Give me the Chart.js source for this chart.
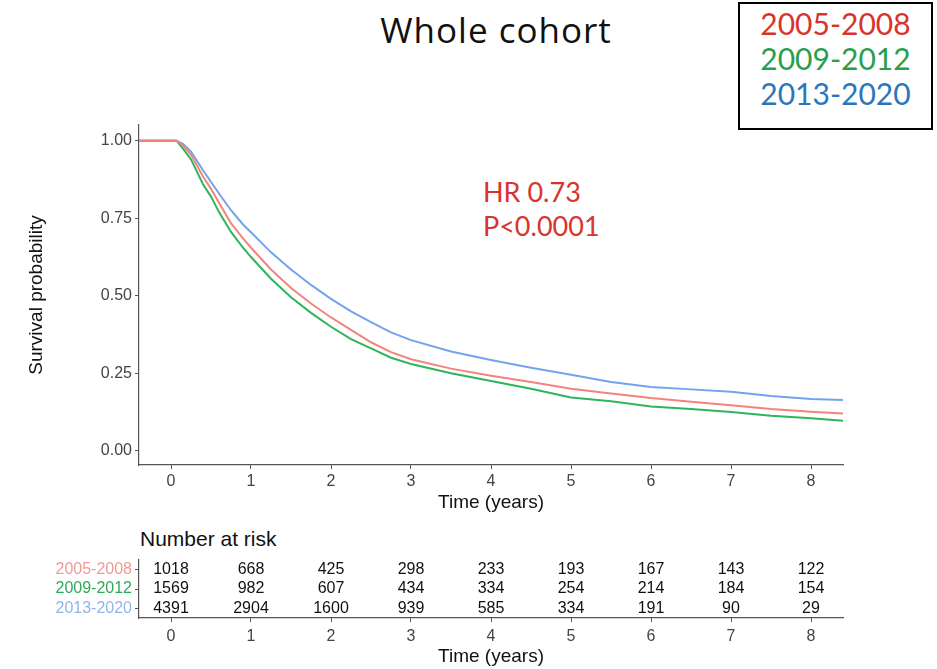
<!DOCTYPE html>
<html>
<head>
<meta charset="utf-8">
<script src="https://cdn.jsdelivr.net/npm/chart.js@4.4.0/dist/chart.umd.min.js"></script>
<style>
  body { margin:0; background:#fff; width:937px; height:669px; position:relative; overflow:hidden; }
  #main { position:absolute; left:0; top:0; }
  #risk { position:absolute; left:0; top:520px; }
  .title { position:absolute; left:296px; width:400px; top:8px; text-align:center; font-family:"Open Sans", sans-serif; font-size:35px; letter-spacing:1px; line-height:44px; color:#111; }
  .legendBox { position:absolute; left:738px; top:2px; width:195px; height:128px; box-sizing:border-box; border:2px solid #000; padding-top:2px; text-align:center; font-family:Lato, sans-serif; font-size:30px; line-height:35px; }
  .hr { position:absolute; left:483px; top:175px; font-family:Lato, sans-serif; font-size:27px; line-height:34px; color:#d9342b; }
  .nrisk { position:absolute; left:140px; top:526px; font-family:"Liberation Sans", Arial, sans-serif; font-size:21px; line-height:26px; color:#111; }
</style>
</head>
<body>
<div class="title">Whole cohort</div>
<div class="legendBox">
  <div style="color:#d9342b">2005-2008</div>
  <div style="color:#2a9d4f">2009-2012</div>
  <div style="color:#2a76bd">2013-2020</div>
</div>
<div class="hr">HR 0.73<br>P&lt;0.0001</div>
<div class="nrisk">Number at risk</div>
<canvas id="main" width="937" height="520"></canvas>
<canvas id="risk" width="937" height="149"></canvas>
<script>
// données
const groups = ['2005-2008', '2009-2012', '2013-2020'];
const times = [-0.4, 0, 0.07, 0.15, 0.25, 0.4, 0.5, 0.6, 0.75, 0.9, 1, 1.25, 1.5, 1.75, 2, 2.25, 2.5, 2.75, 3, 3.5, 4, 4.5, 5, 5.5, 6, 6.5, 7, 7.5, 8, 8.4];
const surv0508 = [1, 1, 1, 0.985, 0.955, 0.885, 0.845, 0.80, 0.734, 0.685, 0.655, 0.585, 0.525, 0.475, 0.43, 0.39, 0.35, 0.318, 0.295, 0.265, 0.242, 0.222, 0.2, 0.185, 0.17, 0.158, 0.147, 0.135, 0.126, 0.12];
const surv0912 = [1, 1, 1, 0.975, 0.94, 0.86, 0.82, 0.77, 0.706, 0.655, 0.625, 0.555, 0.495, 0.445, 0.40, 0.36, 0.33, 0.30, 0.28, 0.25, 0.225, 0.2, 0.172, 0.16, 0.143, 0.135, 0.125, 0.113, 0.105, 0.097];
const surv1320 = [1, 1, 1, 0.99, 0.965, 0.905, 0.867, 0.83, 0.776, 0.73, 0.705, 0.64, 0.585, 0.535, 0.49, 0.45, 0.415, 0.382, 0.357, 0.32, 0.293, 0.268, 0.245, 0.222, 0.206, 0.198, 0.19, 0.177, 0.167, 0.164];
const xTicks = [0, 1, 2, 3, 4, 5, 6, 7, 8];
const yTicks = [0, 0.25, 0.5, 0.75, 1];
const yTickLabels = ['0.00', '0.25', '0.50', '0.75', '1.00'];
const risk0508 = [1018, 668, 425, 298, 233, 193, 167, 143, 122];
const risk0912 = [1569, 982, 607, 434, 334, 254, 214, 184, 154];
const risk1320 = [4391, 2904, 1600, 939, 585, 334, 191, 90, 29];

const lineColors = ['#F4847B', '#2DB55D', '#74A3EE'];
const labelColors = ['#F09A94', '#2EAA55', '#93B4EA'];
const survival = [surv0508, surv0912, surv1320];
const riskRows = [risk0508, risk0912, risk1320];
const FONT = '"Liberation Sans", Arial, sans-serif';

const xAxis = (height, titlePad, tickPad) => ({
    type: 'linear', min: -0.4, max: 8.4,
    afterBuildTicks: s => { s.ticks = xTicks.map(v => ({ value: v })); },
    afterFit: s => { s.height = height; },
    grid: { drawOnChartArea: false, tickLength: 4, color: '#555' },
    border: { color: '#555', width: 1.2 },
    ticks: { font: { size: 16, family: FONT }, color: '#444', padding: tickPad },
    title: { display: true, text: 'Time (years)', font: { size: 19, family: FONT }, color: '#111', padding: { top: 0, bottom: titlePad } }
});

new Chart(document.getElementById('main'), {
    type: 'line',
    data: {
        datasets: survival.map((s, i) => ({
            label: groups[i],
            data: times.map((t, j) => ({ x: t, y: s[j] })),
            borderColor: lineColors[i],
            borderWidth: 2,
            pointRadius: 0,
            fill: false,
            tension: 0
        }))
    },
    options: {
        responsive: false,
        animation: false,
        layout: { padding: { left: 0, top: 125, right: 94, bottom: 0 } },
        plugins: { legend: { display: false }, tooltip: { enabled: false } },
        scales: {
            x: xAxis(55, 5.6, 3),
            y: {
                type: 'linear', min: -0.046, max: 1.051,
                afterBuildTicks: s => { s.ticks = yTicks.map(v => ({ value: v })); },
                afterFit: s => { s.width = 139; },
                grid: { drawOnChartArea: false, tickLength: 4, color: '#555' },
                border: { color: '#555', width: 1.2 },
                ticks: { font: { size: 16, family: FONT }, color: '#444', padding: 3,
                    callback: v => yTickLabels[yTicks.indexOf(v)] },
                title: { display: true, text: 'Survival probability', font: { size: 19, family: FONT }, color: '#111', padding: { top: 25 } }
            }
        }
    }
});

// tableau des effectifs à risque
const riskText = {
    id: 'riskText',
    afterDraw(chart) {
        const ctx = chart.ctx, xs = chart.scales.x, ys = chart.scales.y;
        ctx.save();
        ctx.font = '16px ' + FONT;
        ctx.fillStyle = '#111';
        ctx.textAlign = 'center';
        ctx.textBaseline = 'middle';
        riskRows.forEach((row, i) => {
            row.forEach((n, j) => {
                ctx.fillText(String(n), xs.getPixelForValue(xTicks[j]), ys.getPixelForValue(i));
            });
        });
        ctx.restore();
    }
};

new Chart(document.getElementById('risk'), {
    type: 'line',
    data: { labels: groups, datasets: [{ data: [] }] },
    options: {
        responsive: false,
        animation: false,
        layout: { padding: { left: 0, top: 40, right: 94, bottom: 0 } },
        plugins: { legend: { display: false }, tooltip: { enabled: false } },
        scales: {
            x: xAxis(51, 0.6, 5),
            y: {
                type: 'category', labels: groups, offset: true,
                afterFit: s => { s.width = 139; },
                grid: { drawOnChartArea: false, tickLength: 4, color: '#555', offset: false },
                border: { color: '#555', width: 1.2 },
                ticks: { font: { size: 16, family: FONT }, color: c => labelColors[c.index], padding: 3, autoSkip: false }
            }
        }
    },
    plugins: [riskText]
});
</script>
</body>
</html>
